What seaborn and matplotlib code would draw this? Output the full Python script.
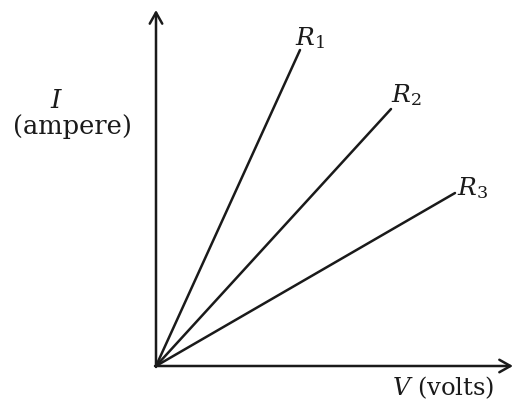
import matplotlib
matplotlib.use("Agg")
import matplotlib.pyplot as plt
import seaborn as sns
import pandas as pd

# Data (in drawing units)
series = ["R1", "R2", "R3"]
labels = [r"$R_1$", r"$R_2$", r"$R_3$"]
v_end = [144, 235, 299]
i_end = [316, 257, 173]

sns.set_style("white")
plt.rcParams["font.family"] = ["DejaVu Serif"]
plt.rcParams["mathtext.fontset"] = "dejavuserif"

rows = []
for s, v, i in zip(series, v_end, i_end):
    rows.append({"series": s, "V": 0, "I": 0})
    rows.append({"series": s, "V": v, "I": i})
df = pd.DataFrame(rows)

fig = plt.figure(figsize=(5.15, 4.06), dpi=100)
ax = fig.add_axes([0, 0, 1, 1])
sns.lineplot(data=df, x="V", y="I", hue="series", units="series", estimator=None,
             palette=["#1a1a1a"] * 3, linewidth=1.8, legend=False, ax=ax, sort=False)

ax.set_xlim(-156, 359)
ax.set_ylim(-39, 367)
ax.axis("off")

arrow = dict(arrowstyle="->,head_length=0.8,head_width=0.45", color="#1a1a1a", lw=1.8,
             shrinkA=0, shrinkB=0)
ax.annotate("", xy=(357, 0), xytext=(-1, 0), arrowprops=arrow)
ax.annotate("", xy=(0, 356), xytext=(0, -1), arrowprops=arrow)

label_pos = [(154, 329), (250, 272), (317, 179)]
for lab, (x, y) in zip(labels, label_pos):
    ax.text(x, y, lab, fontsize=18, ha="center", va="center", color="#1a1a1a")

ax.text(-99, 267, r"$I$", fontsize=19, ha="center", va="center", color="#1a1a1a")
ax.text(-84, 240, "(ampere)", fontsize=18.5, ha="center", va="center", color="#1a1a1a")
ax.text(287, -21, r"$V$ (volts)", fontsize=17.5, ha="center", va="center", color="#1a1a1a")

fig.savefig("out.png", dpi=100)
